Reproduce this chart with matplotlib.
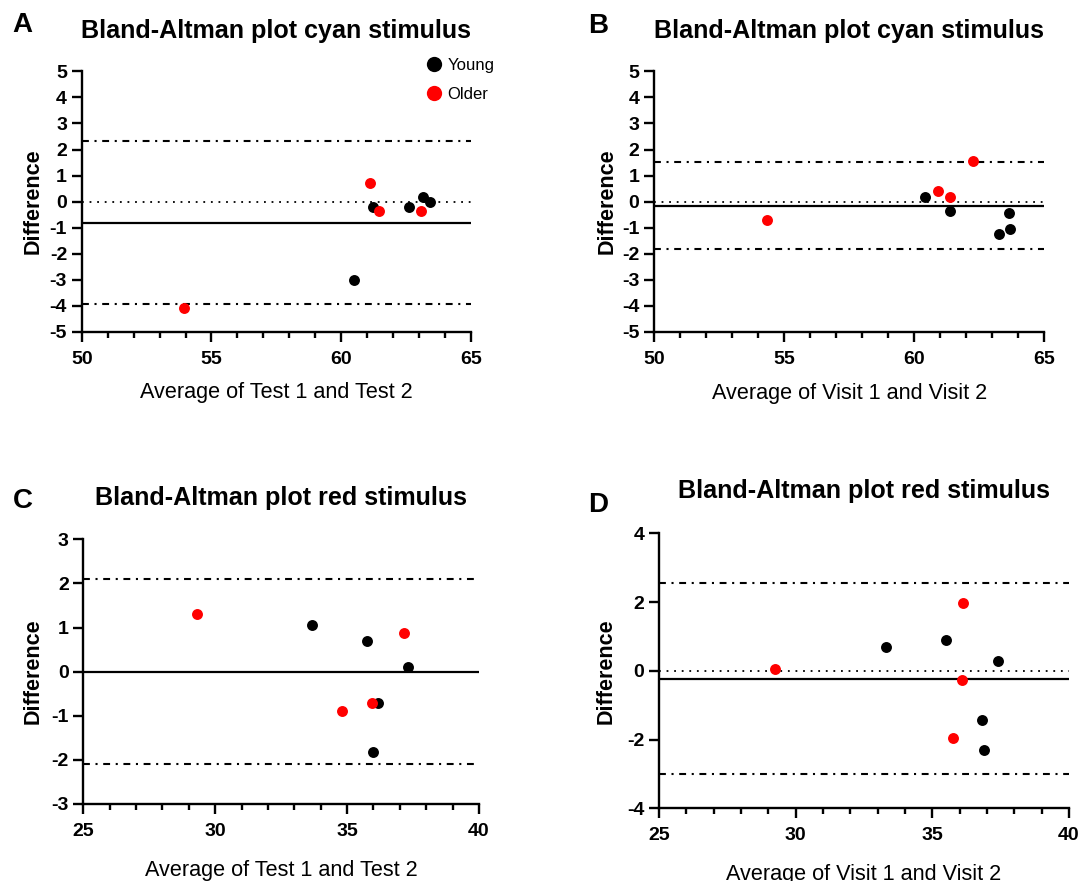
import matplotlib
matplotlib.use("Agg")
import matplotlib.pyplot as plt
from matplotlib.ticker import MultipleLocator
from matplotlib.lines import Line2D

plt.rcParams['font.family'] = ['Liberation Sans', 'DejaVu Sans']
plt.rcParams['axes.unicode_minus'] = False

# ----- data -----
# A: cyan stimulus, test 1 vs test 2
a_young_x = [60.50, 61.21, 62.62, 63.16, 63.43]
a_young_y = [-3.00, -0.19, -0.19, 0.18, 0.00]
a_older_x = [53.96, 61.12, 61.47, 63.07]
a_older_y = [-4.07, 0.70, -0.36, -0.36]
a_lines = [2.33, -0.80, -3.93]   # upper LoA, bias, lower LoA

# B: cyan stimulus, visit 1 vs visit 2
b_young_x = [60.43, 61.36, 63.24, 63.64, 63.69]
b_young_y = [0.17, -0.35, -1.25, -0.42, -1.05]
b_older_x = [54.33, 60.90, 61.39, 62.27]
b_older_y = [-0.72, 0.42, 0.17, 1.57]
b_lines = [1.53, -0.17, -1.83]

# C: red stimulus, test 1 vs test 2
c_young_x = [33.67, 35.76, 37.32, 36.16, 35.99]
c_young_y = [1.05, 0.70, 0.11, -0.72, -1.83]
c_older_x = [29.30, 37.14, 34.80, 35.95]
c_older_y = [1.30, 0.88, -0.89, -0.72]
c_lines = [2.10, 0.0, -2.10]

# D: red stimulus, visit 1 vs visit 2
d_young_x = [33.29, 35.49, 37.42, 36.81, 36.90]
d_young_y = [0.68, 0.89, 0.28, -1.42, -2.31]
d_older_x = [29.25, 36.14, 36.08, 35.76]
d_older_y = [0.04, 1.98, -0.27, -1.95]
d_lines = [2.54, -0.23, -3.01]

titles = ["Bland-Altman plot cyan stimulus", "Bland-Altman plot cyan stimulus",
          "Bland-Altman plot red stimulus", "Bland-Altman plot red stimulus"]
xlabels = ["Average of Test 1 and Test 2", "Average of Visit 1 and Visit 2",
           "Average of Test 1 and Test 2", "Average of Visit 1 and Visit 2"]
letters = ["A", "B", "C", "D"]

W, H = 1088, 881
fig = plt.figure(figsize=(W / 100, H / 100), dpi=100)


def px_axes(left, right, top, bottom):
    return fig.add_axes([left / W, 1 - bottom / H, (right - left) / W, (bottom - top) / H])


axA = px_axes(81.7, 471, 71.3, 332)
axB = px_axes(654, 1044.3, 71.3, 332)
axC = px_axes(83.3, 479, 539.3, 804)
axD = px_axes(659, 1069, 533.3, 808.3)

DASHDOT = (0, (3.3, 2.7, 1.0, 2.7))
DOTTED = (0, (1, 3.2))


def draw(ax, yx, yy, ox, oy, lines, xlim, ylim, ystep, title, xlabel,
         tpad, xlpad, ylpad):
    ax.axhline(0, color='black', lw=1.3, ls=DOTTED, zorder=1)
    ax.axhline(lines[0], color='black', lw=1.5, ls=DASHDOT, zorder=1)
    ax.axhline(lines[2], color='black', lw=1.5, ls=DASHDOT, zorder=1)
    ax.axhline(lines[1], color='black', lw=1.6, zorder=2)
    ax.scatter(yx, yy, s=62, color='black', zorder=3, linewidths=0)
    ax.scatter(ox, oy, s=62, color='#ff0000', zorder=3, linewidths=0)
    ax.set_xlim(*xlim)
    ax.set_ylim(*ylim)
    ax.xaxis.set_major_locator(MultipleLocator(5))
    ax.xaxis.set_minor_locator(MultipleLocator(1))
    ax.yaxis.set_major_locator(MultipleLocator(ystep))
    for s in ['top', 'right']:
        ax.spines[s].set_visible(False)
    for s in ['left', 'bottom']:
        ax.spines[s].set_linewidth(1.7)
    ax.tick_params(which='major', direction='out', length=7.5, width=1.7, labelsize=14)
    ax.tick_params(axis='x', which='major', pad=6)
    ax.tick_params(axis='y', which='major', pad=3)
    ax.tick_params(which='minor', direction='out', length=4.5, width=1.7)
    for lab in ax.get_xticklabels() + ax.get_yticklabels():
        lab.set_fontweight('bold')
    ax.set_title(title, fontsize=18.1, fontweight='bold', pad=tpad)
    ax.set_xlabel(xlabel, fontsize=15.6, labelpad=xlpad)
    ax.set_ylabel("Difference", fontsize=15.5, fontweight='bold', labelpad=ylpad)


draw(axA, a_young_x, a_young_y, a_older_x, a_older_y, a_lines, (50, 65), (-5, 5), 1,
     titles[0], xlabels[0], 23.8, 10.5, 4.5)
draw(axB, b_young_x, b_young_y, b_older_x, b_older_y, b_lines, (50, 65), (-5, 5), 1,
     titles[1], xlabels[1], 24.0, 11.0, 3.5)
draw(axC, c_young_x, c_young_y, c_older_x, c_older_y, c_lines, (25, 40), (-3, 3), 1,
     titles[2], xlabels[2], 24.7, 14.5, 5.3)
draw(axD, d_young_x, d_young_y, d_older_x, d_older_y, d_lines, (25, 40), (-4, 4), 2,
     titles[3], xlabels[3], 25.4, 14.5, 7.5)

# legend in panel A
handles = [Line2D([], [], ls='none', marker='o', ms=11, color='black', mec='none'),
           Line2D([], [], ls='none', marker='o', ms=11, color='#ff0000', mec='none')]
axA.legend(handles, ["Young", "Older"], loc='upper left', bbox_to_anchor=(0.884, 1.05),
           frameon=False, fontsize=12, handletextpad=0.28, labelspacing=0.8,
           borderaxespad=0, borderpad=0, handlelength=1.0)

# panel letters
letter_pos = [(12.7, 12), (588, 13), (12.7, 488), (588, 492)]
for let, (x, y) in zip(letters, letter_pos):
    fig.text(x / W, 1 - y / H, let, fontsize=20, fontweight='bold', va='top', ha='left')

fig.savefig("out.png", dpi=100)
